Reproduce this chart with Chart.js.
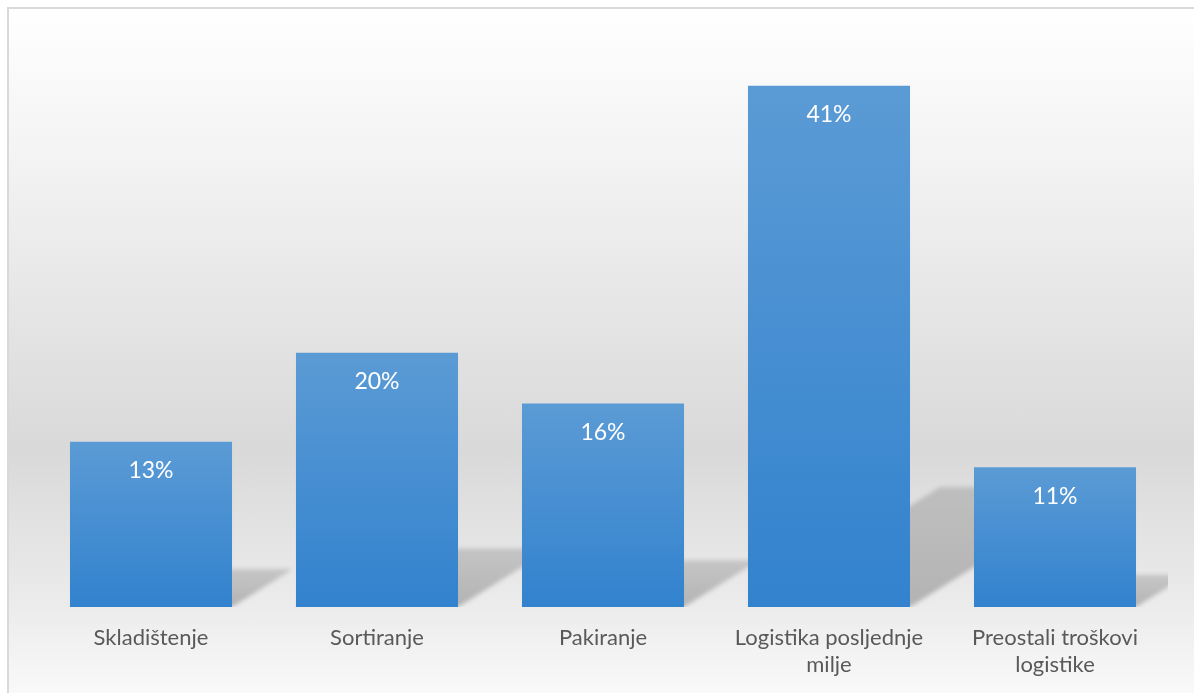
<!DOCTYPE html>
<html>
<head>
<meta charset="utf-8">
<script src="https://cdn.jsdelivr.net/npm/chart.js@4/dist/chart.umd.min.js"></script>
<style>
  html, body { margin: 0; padding: 0; overflow: hidden; background: #ffffff; }
  #frame {
    position: absolute; left: 7px; top: 7px;
    width: 1200px; height: 700px;
    border: 2px solid #d9d9d9;
    background: linear-gradient(to bottom, #ffffff 0px, #f3f3f3 150px, #d9d9d9 440px, #ececec 600px, #f9f9f9 684px);
  }
  #wrap { position: absolute; left: 0; top: 0; width: 1185px; height: 684px; }
</style>
</head>
<body>
<div id="frame"><div id="wrap"><canvas id="costChart"></canvas></div></div>
<script>
// Data
const categories = [
  "Skladištenje",
  "Sortiranje",
  "Pakiranje",
  ["Logistika posljednje", "milje"],
  ["Preostali troškovi", "logistike"]
];
const shares = [13, 20, 16, 41, 11];

// Per-bar vertical gradient (light at top, darker at base)
function barFill(ctx) {
  const chart = ctx.chart;
  if (!chart.chartArea) return "#4a90d2";
  const yScale = chart.scales.y;
  const top = yScale.getPixelForValue(ctx.raw);
  const base = yScale.getPixelForValue(0);
  const g = chart.ctx.createLinearGradient(0, top, 0, base);
  g.addColorStop(0, "#5b9bd5");
  g.addColorStop(1, "#3282ce");
  return g;
}

// Skewed floor shadows behind each bar
const shadowPlugin = {
  id: "barShadows",
  beforeDatasetsDraw(chart) {
    const { ctx, chartArea } = chart;
    const meta = chart.getDatasetMeta(0);
    ctx.save();
    ctx.beginPath();
    ctx.rect(chartArea.left, chartArea.top, chartArea.right - chartArea.left, chartArea.bottom - chartArea.top);
    ctx.clip();
    ctx.filter = "blur(2px)";
    meta.data.forEach((bar) => {
      const half = bar.width / 2;
      const left = bar.x - half;
      const right = bar.x + half;
      const h = (bar.base - bar.y) * 0.23;
      const off = h * 1.6;
      const g = ctx.createLinearGradient(0, bar.base, 0, bar.base - h);
      g.addColorStop(0, "rgba(0,0,0,0.24)");
      g.addColorStop(1, "rgba(0,0,0,0.14)");
      ctx.fillStyle = g;
      ctx.beginPath();
      ctx.moveTo(left, bar.base);
      ctx.lineTo(right, bar.base);
      ctx.lineTo(right + off, bar.base - h);
      ctx.lineTo(left + off, bar.base - h);
      ctx.closePath();
      ctx.fill();
    });
    ctx.restore();
  }
};

// Value labels inside the top of each bar
const labelPlugin = {
  id: "valueLabels",
  afterDatasetsDraw(chart) {
    const { ctx } = chart;
    const meta = chart.getDatasetMeta(0);
    ctx.save();
    ctx.fillStyle = "#ffffff";
    ctx.font = "23px Lato";
    ctx.textAlign = "center";
    ctx.textBaseline = "middle";
    meta.data.forEach((bar, i) => {
      ctx.fillText(shares[i] + "%", bar.x, bar.y + 29);
    });
    ctx.restore();
  }
};

const ctx = document.getElementById("costChart").getContext("2d");
new Chart(ctx, {
  type: "bar",
  data: {
    labels: categories,
    datasets: [
      {
        data: shares,
        backgroundColor: barFill,
        borderWidth: 0,
        categoryPercentage: 1,
        barPercentage: 0.717,
      },
    ],
  },
  options: {
    responsive: true,
    maintainAspectRatio: false,
    animation: false,
    layout: { padding: { left: 29, right: 26, top: 26, bottom: 0 } },
    plugins: {
      legend: { display: false },
      tooltip: { enabled: false },
    },
    scales: {
      x: {
        grid: { display: false, drawTicks: false },
        border: { display: false },
        ticks: {
          color: "#595959",
          font: { family: "Lato", size: 22, lineHeight: 1.23 },
          padding: 17,
          maxRotation: 0,
          autoSkip: false,
        },
        afterFit(scale) { scale.height = 86; },
      },
      y: {
        display: false,
        min: 0,
        max: 45,
      },
    },
  },
  plugins: [shadowPlugin, labelPlugin],
});
</script>
</body>
</html>
